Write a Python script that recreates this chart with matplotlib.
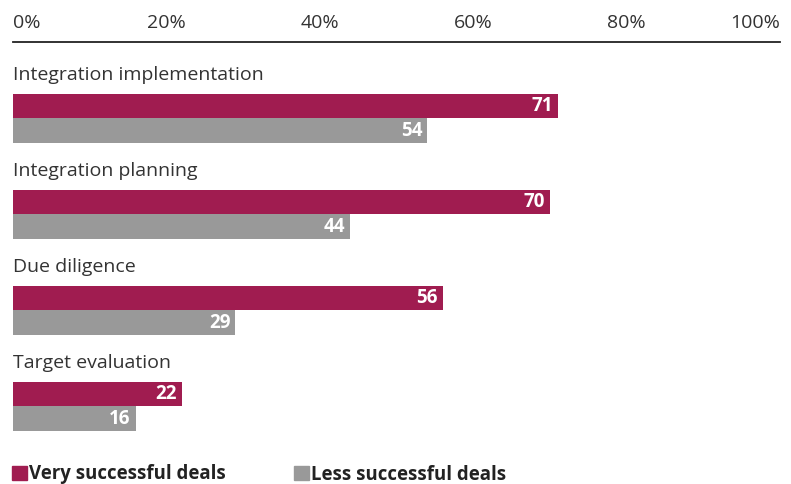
import matplotlib.pyplot as plt
from matplotlib.patches import Patch

categories = ['Integration implementation', 'Integration planning', 'Due diligence', 'Target evaluation']
very_successful = [71, 70, 56, 22]
less_successful = [54, 44, 29, 16]
ticks = [0, 20, 40, 60, 80, 100]
tick_labels = ['0%', '20%', '40%', '60%', '80%', '100%']

crimson = '#A01C50'
gray = '#999999'
txt = '#333333'

plt.rcParams['font.family'] = ['Open Sans', 'DejaVu Sans']

fig = plt.figure(figsize=(7.91, 4.84), dpi=100)
W, H = 791, 484
top_px = 41.5
ax = fig.add_axes([13 / W, 0, 767 / W, (H - top_px) / H])
unit = 96.0
ax.set_xlim(0, 100)
ax.set_ylim((H - top_px) / unit, 0)

bh = 24.5 / unit
for i, cat in enumerate(categories):
    y1 = (106 - top_px) / unit + i
    y2 = y1 + bh
    ax.barh(y1, very_successful[i], height=bh, color=crimson)
    ax.barh(y2, less_successful[i], height=bh, color=gray)
    ax.text(0, (75 - top_px) / unit + i, cat, ha='left', va='center', fontsize=14, color=txt)
    ax.text(very_successful[i] - 0.65, y1, str(very_successful[i]), ha='right', va='center',
            color='white', fontsize=13.5, fontweight='bold')
    ax.text(less_successful[i] - 0.65, y2, str(less_successful[i]), ha='right', va='center',
            color='white', fontsize=13.5, fontweight='bold')

for s in ['left', 'right', 'bottom']:
    ax.spines[s].set_visible(False)
ax.spines['top'].set_color('#222222')
ax.spines['top'].set_linewidth(1.3)
ax.yaxis.set_visible(False)
ax.xaxis.tick_top()
ax.set_xticks(ticks)
ax.set_xticklabels(tick_labels, fontsize=14, color=txt)
ax.tick_params(axis='x', length=0, pad=7)
labs = ax.get_xticklabels()
labs[0].set_ha('left')
labs[-1].set_ha('right')

handles = [Patch(color=crimson, label='Very successful deals'),
           Patch(color=gray, label='Less successful deals')]
leg = fig.legend(handles=handles, loc='center left', bbox_to_anchor=(12 / W, 1 - 474.5 / H),
                 ncol=2, frameon=False, borderpad=0, borderaxespad=0,
                 handlelength=0.8, handleheight=0.8, handletextpad=0.12, columnspacing=3.65,
                 prop={'size': 13.4, 'weight': 'bold'})
for t in leg.get_texts():
    t.set_color('#222222')

fig.savefig('out.png', dpi=100)
